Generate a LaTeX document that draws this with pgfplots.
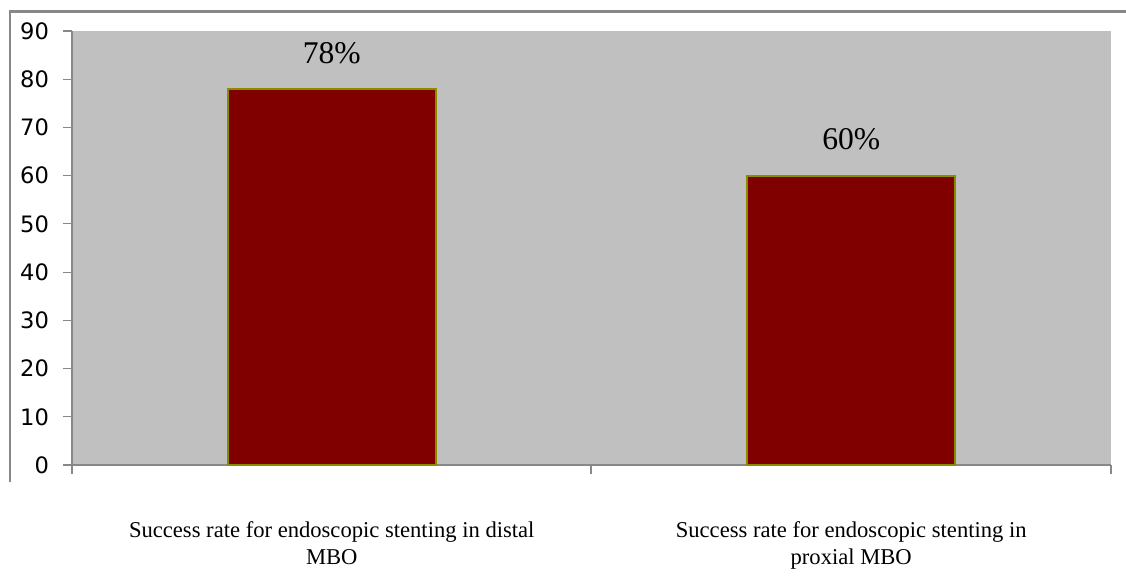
\documentclass[border=0pt]{standalone}
\usepackage{pgfplots}
\pgfplotsset{compat=1.18}
\usepackage{fontspec}
\setmainfont{Liberation Serif}
\newfontfamily\dejavu{DejaVu Sans}

\definecolor{plotbg}{HTML}{C0C0C0}
\definecolor{barfill}{HTML}{800000}
\definecolor{baredge}{HTML}{8B8B00}
\definecolor{axgray}{HTML}{888888}

\begin{document}
\begin{tikzpicture}
\path[use as bounding box] (0,0) rectangle (563pt,289.5pt);
% outer chart frame (top and left edges)
\draw[axgray, line width=1.2pt] (5pt,48.5pt) -- (5pt,283.75pt) -- (563pt,283.75pt);
\begin{axis}[
  at={(36pt,57pt)}, anchor=origin,
  scale only axis,
  width=519.5pt, height=217pt,
  xmin=0, xmax=2, ymin=0, ymax=90,
  axis background/.style={fill=plotbg},
  axis x line*=bottom, axis y line*=left,
  axis line style={axgray, line width=0.8pt},
  tick align=outside,
  ytick={0,10,...,90},
  y tick style={axgray, line width=0.6pt},
  major tick length=4.5pt,
  yticklabel style={font=\dejavu\fontsize{11.3}{13}\selectfont, text=black, xshift=-3.5pt},
  /pgf/number format/assume math mode=true,
  xtick={0,1,2}, xticklabels={},
  x tick style={axgray, line width=1pt},
  extra x ticks={0.5,1.5},
  extra x tick labels={Success rate for endoscopic stenting in distal\\MBO,
                       Success rate for endoscopic stenting in\\proxial MBO},
  extra x tick style={major tick length=0pt,
    xticklabel style={align=center, font=\fontsize{11.3}{13.5}\selectfont,
      anchor=north, yshift=-25pt, text=black}},
  clip=false,
]
\addplot[ybar, bar width=104pt, fill=barfill, draw=baredge, line width=0.9pt,
  nodes near coords={\pgfmathprintnumber{\pgfplotspointmeta}\%},
  nodes near coords style={anchor=center, yshift=18pt, font=\fontsize{15.8}{18}\selectfont, text=black}]
  coordinates {(0.5,78) (1.5,60)};
\end{axis}
\end{tikzpicture}
\end{document}
